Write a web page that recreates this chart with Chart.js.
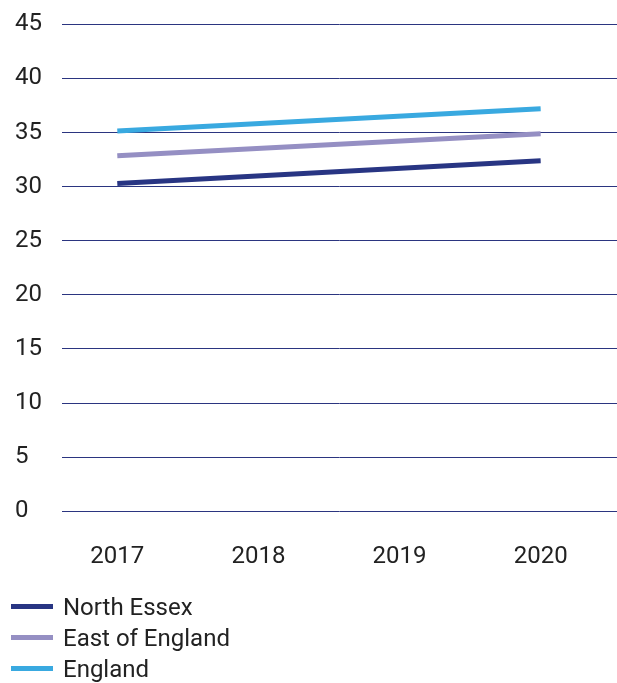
<!DOCTYPE html>
<html>
<head>
<meta charset="utf-8">
<script src="https://cdn.jsdelivr.net/npm/chart.js@4"></script>
<style>
  body { margin: 0; background: #fff; font-family: Roboto, sans-serif; }
  #wrap { position: relative; width: 617px; height: 683px; }
  #legend { position: absolute; left: 11px; top: 591px; margin: 0; padding: 0; list-style: none; }
  #legend li { height: 31px; display: flex; align-items: center; font-size: 24px; color: #222; }
  #legend span { display: inline-block; width: 42px; height: 5px; margin-right: 10px; }
</style>
</head>
<body>
<div id="wrap">
  <canvas id="lineChart"></canvas>
  <ul id="legend"></ul>
</div>
<script>
  const years = [2017, 2018, 2019, 2020];
  // only the first and last years are plotted in the source chart
  const northEssex = [30.3, null, null, 32.4];
  const eastOfEngland = [32.85, null, null, 34.9];
  const england = [35.15, null, null, 37.2];
  const yTicks = [0, 5, 10, 15, 20, 25, 30, 35, 40, 45];

  const seriesNames = ['North Essex', 'East of England', 'England'];
  const seriesColors = ['#283583', '#958fc3', '#39a9e0'];
  const seriesData = [northEssex, eastOfEngland, england];

  const toPoints = (arr) => years.map((yr, i) => ({ x: yr, y: arr[i] }));

  const ctx = document.getElementById('lineChart').getContext('2d');

  const lineChart = new Chart(ctx, {
    type: 'line',
    data: {
      datasets: seriesNames.map((name, i) => ({
        label: name,
        data: toPoints(seriesData[i]),
        borderColor: seriesColors[i],
        backgroundColor: seriesColors[i],
        borderWidth: 5,
        pointRadius: 0,
        spanGaps: true,
        tension: 0,
        borderCapStyle: 'butt'
      }))
    },
    options: {
      responsive: true,
      maintainAspectRatio: false,
      animation: false,
      layout: { padding: { top: 3, left: 15, right: 0, bottom: 81 } },
      plugins: {
        legend: { display: false },
        tooltip: { enabled: false }
      },
      scales: {
        x: {
          type: 'linear',
          min: 2016.608,
          max: 2020.541,
          afterBuildTicks: (scale) => { scale.ticks = years.map(v => ({ value: v })); },
          grid: { display: false, drawTicks: false },
          border: { display: false },
          ticks: {
            padding: 31,
            color: '#222',
            font: { family: 'Roboto', size: 24 },
            callback: (v) => String(v)
          }
        },
        y: {
          min: 0,
          max: 45,
          afterBuildTicks: (scale) => { scale.ticks = yTicks.map(v => ({ value: v })); },
          grid: { color: '#2b3580', lineWidth: 1, drawTicks: false },
          border: { display: false },
          ticks: {
            padding: 10,
            crossAlign: 'far',
            color: '#222',
            font: { family: 'Roboto', size: 24 }
          }
        }
      }
    }
  });

  // legend under the plot, one item per row
  const legendEl = document.getElementById('legend');
  seriesNames.forEach((name, i) => {
    const li = document.createElement('li');
    li.innerHTML = '<span style="background:' + seriesColors[i] + '"></span>' + name;
    legendEl.appendChild(li);
  });
</script>
</body>
</html>
